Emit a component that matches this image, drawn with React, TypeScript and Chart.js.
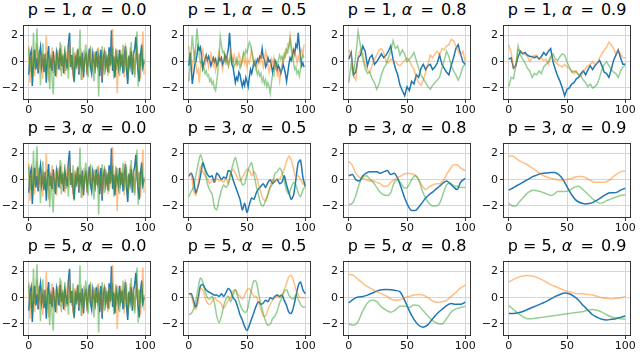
import React, { useEffect, useRef } from "react";
import { Chart, registerables } from "chart.js";

Chart.register(...registerables);
Chart.defaults.font.family = '"DejaVu Sans", sans-serif';

// ---------- x positions ----------
const X1 = Array.from({ length: 100 }, (_, i) => i);
const X2 = Array.from({ length: 51 }, (_, i) => i * 2);
const X3 = [0, 3, 6, 9, 12, 15, 18, 21, 24, 27, 30, 33, 36, 39, 42, 45, 48, 51, 54, 57, 60, 63, 66, 69, 72, 75, 78, 81, 84, 87, 90, 93, 96, 100];
const X4 = [0, 4, 8, 12, 16, 20, 24, 28, 32, 36, 40, 44, 48, 52, 56, 60, 64, 68, 72, 76, 80, 84, 88, 92, 96, 100];

// ---------- axis ticks ----------
const X_TICKS = [0, 50, 100];
const Y_TICKS = [-2, 0, 2];
const Y_MIN = -2.92;
const Y_MAX = 2.83;
const X_MIN = -5;
const X_MAX = 105;

// ---------- alpha = 0.0 (same for p = 1, 3, 5) ----------
const blueA00 = [-1.0, 0.4, 0.8, -1.85, -0.2, 0.9, -0.6, 0.3, -0.9, 0.5,
  1.1, -0.4, 0.2, -0.8, 0.6, -1.6, 0.1, 1.2, -0.5, 0.3,
  -0.7, 0.8, -0.2, -1.1, 0.7, 0.2, -0.6, 1.0, -0.3, 0.4,
  -0.9, 0.6, 0.1, -0.5, 1.3, 2.2, -0.4, 0.5, -0.8, -1.5,
  0.3, -0.2, 0.9, -1.0, 0.4, -0.3, 0.7, -1.2, 0.2, 0.5,
  -0.6, 0.1, 1.0, -0.4, -0.9, 0.6, 0.0, -0.5, 0.8, -0.2,
  0.4, -1.1, 0.9, -1.6, 0.3, 0.7, -0.4, 0.2, -0.8, 1.1,
  -0.3, 2.4, -0.7, 0.4, -1.2, 0.6, 0.1, -0.5, 0.9, -0.2,
  0.5, -0.9, 0.3, 1.2, -0.6, -1.7, 0.4, -0.3, 0.8, -1.0,
  0.6, 1.0, 1.9, 0.2, -0.7, -1.5, 0.5, 1.3, -0.4, 0.0];
const greenA00 = [1.0, -0.8, 0.3, -1.2, 2.2, -0.5, 0.6, 2.55, -0.3, 0.9,
  -1.8, 0.4, 1.4, -0.6, 0.2, -1.0, 0.8, -0.4, -2.1, 0.5,
  -1.3, -2.5, 0.1, -0.9, 0.7, -0.2, 0.3, 1.5, -1.1, 0.6,
  -0.4, 1.2, -0.7, 0.2, -1.3, 0.9, 0.0, -0.6, 1.1, -1.6,
  0.4, -0.5, 1.0, -0.2, 2.45, -1.4, 0.3, -0.8, 0.6, 1.3,
  -0.3, -1.2, 0.5, 0.9, -0.7, 0.2, -1.5, 0.7, -0.4, 1.0,
  -2.65, 0.4, -0.6, 1.2, 0.1, -1.0, 0.8, -0.3, 0.5, -0.9,
  0.7, -0.2, 1.1, -1.3, 0.3, -0.6, 0.9, 0.2, -1.1, 0.6,
  -0.4, 1.3, -0.8, 0.2, 0.7, -1.4, 0.5, -0.1, 1.5, -0.7,
  0.3, -1.2, 0.8, 2.3, -1.9, 0.6, -0.4, 1.1, -0.6, 0.2];
const orangeA00 = [1.2, -1.6, 0.5, -0.3, 0.9, -1.1, 0.2, 1.4, -0.7, 0.4,
  -0.2, 0.8, -1.3, 0.6, -0.5, 2.0, 0.1, -1.5, 0.7, -0.4,
  1.1, -0.9, 0.3, 0.6, -1.2, 0.9, -0.1, -0.7, 1.3, -0.4,
  0.5, -1.0, 0.2, 0.8, -0.6, 1.6, -0.3, 0.4, -1.2, 0.7,
  -0.5, 0.3, 1.0, -0.8, 0.1, 0.6, -1.4, 0.9, -0.2, 0.4,
  -1.0, 0.7, -0.3, 1.2, -0.6, 0.2, 0.8, -0.9, 0.5, -0.4,
  1.1, -0.7, 0.3, -1.3, 0.6, 0.9, -0.5, 0.1, -1.1, 0.8,
  -0.2, 0.5, 2.5, -0.8, 0.4, 1.0, -2.4, 0.2, -0.6, 0.9,
  -0.3, 0.6, -1.2, 1.4, -0.5, 0.3, -0.9, 1.1, 0.0, -0.7,
  0.8, -1.0, 0.4, 1.2, -0.4, 0.6, -1.3, 0.5, 2.3, -1.0];

// ---------- p = 1 ----------
const blueP1A05 = [-0.3, 0.7, -0.3, -1.7, -1.0, -0.3, 0.0, 0.5, 1.2, 0.9,
  1.1, 0.4, -0.5, -0.1, 0.2, 0.5, 0.1, 0.4, 0.1, -0.3,
  0.0, 0.3, 0.0, 0.2, -0.3, -0.1, 0.3, 0.1, 0.3, -0.2,
  0.0, 0.5, 0.2, 0.5, 1.0, 2.2, 0.8, -0.2, -0.4, -1.0,
  -1.6, -1.2, -1.4, -0.8, -1.0, -1.5, -1.9, -1.5, -1.8, -1.2,
  -1.5, -1.9, -1.2, -0.6, -0.9, -0.5, 0.0, -0.3, -0.1, 0.2,
  0.0, 0.4, 0.3, 1.0, 0.3, 0.2, -0.4, -0.2, 0.3, 0.0,
  0.1, -0.3, -0.8, -0.4, 0.1, -0.1, -0.6, -0.3, -0.5, -0.9,
  -0.6, -0.2, -0.5, -0.9, -1.5, -0.9, -0.2, 0.3, 0.1, 0.5,
  0.9, 0.6, 1.3, 1.1, 2.2, 1.2, 0.4, -0.3, -0.1, -0.4];
const greenP1A05 = [-1.5, -0.4, 0.8, 2.0, 0.9, 0.2, 1.2, 2.55, 1.6, 0.5,
  -0.1, 0.0, -0.6, -0.5, -0.9, -0.7, -1.1, -1.0, -1.5, -1.3,
  -1.7, -1.5, -2.0, -2.2, -1.5, -0.7, 0.3, 1.9, 1.3, 0.7,
  0.8, 0.3, -0.1, 0.2, -0.3, 0.0, 0.4, 0.0, 0.2, -0.4,
  -0.2, 0.2, -0.2, 0.0, -0.5, -0.2, 0.2, 0.7, 0.5, 0.9,
  0.7, 1.1, 1.5, 1.3, 0.8, 0.3, -0.2, 0.0, -0.6, -1.0,
  -0.7, -1.1, -0.9, -1.5, -1.2, -1.7, -1.4, -1.9, -1.6, -1.9,
  -2.4, -1.6, -1.0, -1.1, -0.5, 0.0, -0.3, 0.1, 0.5, 0.2,
  0.4, 0.0, 0.6, 0.4, 0.9, 0.7, 1.2, 1.7, 1.0, 0.4,
  -0.1, -0.6, -0.4, -0.9, -0.7, -1.1, -0.5, 0.1, 0.5, 0.3];
const orangeP1A05 = [1.2, 0.2, 0.5, -0.4, 0.1, 0.7, -0.2, -0.8, -0.6, -1.6,
  -0.5, 0.3, 0.9, 0.4, -0.2, 0.4, 0.2, -0.4, 0.1, 0.6,
  0.2, -0.3, 0.1, -0.7, -0.3, 0.3, 0.8, 0.3, -0.1, -0.6,
  -0.1, 0.5, 0.0, 0.4, -0.3, 0.2, 0.9, 0.5, 0.0, 0.5,
  0.2, -0.2, 0.2, 0.6, 0.3, -0.3, 0.0, 0.5, -0.1, 0.3,
  -0.4, 0.1, -0.1, 0.4, 0.9, 0.4, -0.2, 0.1, -0.6, -0.3,
  0.2, -0.1, 0.5, 0.1, -0.4, 0.2, 0.8, 0.3, -0.3, -0.8,
  -0.4, 0.2, -0.1, 0.3, -0.5, -0.3, -1.0, -0.7, -1.5, -0.9,
  -0.2, 0.3, 0.2, 0.9, 0.7, 1.3, 1.1, 2.0, 1.3, 0.7,
  0.3, 0.7, 0.4, -0.1, 0.4, 0.1, 0.6, 0.9, 0.5, 1.3];

const blueP1A08 = [0.2, 0.7, -1.0, -0.8, 0.3, 0.5, 1.2, 0.8, -0.3, 0.3,
  0.5, -0.2, 0.0, 0.3, 0.6, 0.3, 0.5, 0.8, 1.2, 0.2,
  -0.5, -1.0, -1.8, -2.2, -2.6, -1.9, -2.2, -1.5, -1.7, -1.0,
  -1.2, -0.5, -0.2, -0.6, -0.3, -0.2, -0.6, -0.4, -0.1, 0.5,
  -0.2, -0.5, -0.8, -1.0, -0.3, 0.3, 1.0, 1.3, 0.6, 0.0, -0.2];
const greenP1A08 = [-1.6, -0.2, -1.0, 0.5, 2.3, 1.2, 0.2, -0.5, -0.9, -0.8,
  -1.3, -1.6, -2.1, -1.7, -1.0, -0.5, -0.2, 0.3, 0.8, 1.6,
  1.0, 1.2, 0.5, 0.9, 0.6, 0.0, 0.2, 0.4, 0.7, 0.1,
  -0.5, -1.0, -1.3, -1.6, -1.9, -2.1, -1.8, -1.6, -1.4, -1.2,
  -0.5, 0.1, 0.8, 0.4, -0.3, -0.7, -1.0, -1.4, -1.0, -0.4, -0.2];
const orangeP1A08 = [0.9, 0.5, -1.0, -1.4, 0.5, 0.9, 0.6, -0.2, -0.6, -0.8,
  -0.3, 0.2, 0.5, 0.9, 1.0, 0.7, 0.0, -0.1, 0.2, 0.1,
  0.0, -0.2, -0.3, -0.1, 0.1, 0.3, 0.1, -0.3, -0.6, -1.2,
  -1.6, -1.8, -1.4, -0.8, -0.2, 0.5, 0.3, 0.6, 0.8, 0.5,
  1.0, 0.9, 1.2, 1.3, 1.7, 1.6, 1.2, 0.8, 0.5, 0.8, 0.0];

const blueP1A09 = [0.2, 0.3, -0.5, -0.3, 0.4, 0.8, 0.6, 0.7, 0.5, 0.4,
  0.4, 0.3, 0.4, 0.2, 0.4, 0.7, 0.5, 0.8, 1.0, 0.0,
  -0.6, -1.1, -1.5, -2.0, -2.6, -2.1, -2.0, -1.7, -1.6, -1.3,
  -1.2, -0.9, -0.7, -1.0, -0.6, -0.3, -0.6, -0.3, -0.1, 0.1,
  -0.3, -0.8, -0.9, -1.2, -0.6, 0.1, 0.5, 0.9, 0.3, -0.2, -0.2];
const greenP1A09 = [-1.9, -1.2, -1.3, -0.3, 1.2, 0.5, 0.2, -0.1, -0.5, -0.7,
  -1.2, -0.9, -1.0, -0.7, -0.9, -0.4, -0.2, 0.0, 0.4, 0.6,
  0.2, 0.1, 0.4, 0.6, 0.5, 0.0, -0.4, -0.8, -0.7, -0.8,
  -1.0, -1.1, -1.4, -1.6, -1.9, -1.7, -2.0, -1.9, -1.7, -1.2,
  -0.6, -0.2, 0.0, -0.3, -0.6, -0.8, -0.9, -1.2, -0.7, -0.4, -0.3];
const orangeP1A09 = [1.3, 0.7, -0.5, -0.3, 0.9, 0.8, 0.7, 0.5, 0.4, 0.0,
  0.3, 0.5, 0.5, 0.2, 0.3, 0.1, 0.2, -0.2, 0.3, 0.2,
  0.0, -0.2, -0.3, -0.4, -0.2, -0.4, -0.5, -0.7, -0.9, -0.7,
  -1.0, -1.1, -0.8, -0.5, -0.3, -0.2, 0.0, -0.2, -0.1, 0.3,
  0.6, 0.9, 1.1, 1.5, 1.3, 1.0, 0.6, 0.9, 0.6, 0.3, 0.3];

// ---------- p = 3 ----------
const blueP3A05 = [0.3, 0.5, 0.0, -1.0, -0.5, 0.3, 1.3, 0.8, 0.4, 0.2,
  0.3, -0.2, 0.5, 0.3, 0.0, 0.2, 0.1, 0.7, 0.6, 0.0,
  -0.5, -1.0, -1.5, -2.3, -1.8, -2.5, -1.9, -1.4, -1.5, -1.0,
  -0.7, -0.5, -0.3, -0.6, -0.2, 0.0, -0.3, -0.1, 0.0, -0.3,
  -0.2, 0.3, -0.4, -1.0, -1.5, -1.2, 0.0, 1.3, 1.5, 0.2, -0.5];
const greenP3A05 = [-1.3, -0.9, -0.6, 0.3, 1.2, 1.9, 1.4, 0.6, -0.3, -0.8,
  -1.1, -2.1, -2.3, -1.5, -0.8, -0.4, -0.6, -0.3, 0.5, 1.2,
  1.7, 1.0, 0.2, -0.4, -0.3, 0.4, 1.0, 1.3, 0.4, -0.5,
  -1.2, -1.9, -2.0, -1.6, -1.2, -0.6, -0.3, 0.5, 0.6, 0.9,
  0.6, -0.1, -0.8, -1.1, -0.6, -0.2, -0.4, -1.0, -1.3, -0.8, -0.5];
const orangeP3A05 = [0.2, 0.5, -0.8, -1.2, -0.3, 1.0, 0.6, 0.3, 0.1, -0.3,
  0.0, -0.2, 0.1, -0.1, 0.0, -0.2, 0.1, -0.3, 0.5, 0.8,
  0.5, 0.1, -0.1, 0.2, 0.5, 0.8, 0.7, 0.3, 0.6, 0.3,
  -0.4, -1.0, -1.5, -1.6, -1.0, -0.5, 0.0, -0.2, 0.1, 0.0,
  0.4, 0.8, 1.4, 1.8, 1.5, 0.8, 0.2, 0.3, 0.0, -0.3, -0.4];

const blueP3A08 = [0.3, 0.4, 0.0, -0.1, 0.3, 0.5, 0.6, 0.6, 0.6, 0.5,
  0.6, 0.7, 0.4, 0.5, 0.1, -0.6, -1.4, -2.0, -2.35, -2.35,
  -2.1, -1.75, -1.4, -1.15, -0.95, -0.7, -0.5, -0.25, -0.1, -0.3,
  -0.55, -0.75, -0.2, 0.1];
const greenP3A08 = [-1.9, -1.8, -1.2, -0.3, 0.2, 0.3, 0.05, -0.2, -0.6, -0.95,
  -1.15, -1.2, -1.0, -0.2, 0.0, -0.3, -0.65, -0.5, 0.0, 0.3,
  0.0, -0.8, -1.4, -1.8, -2.0, -2.0, -1.8, -1.1, -0.4, -0.25,
  -0.45, -0.5, -0.6, -0.6];
const orangeP3A08 = [1.4, 1.1, 0.5, 0.2, 0.1, 0.0, -0.1, -0.1, -0.2, -0.3,
  -0.5, -0.5, -0.2, 0.0, 0.15, 0.3, 0.45, 0.5, 0.45, 0.35,
  0.0, -0.45, -0.75, -0.55, -0.4, -0.3, -0.3, -0.1, 0.4, 0.8,
  1.15, 1.15, 0.9, 0.7];

const blueP3A09 = [-0.8, -0.65, -0.5, -0.35, -0.2, -0.05, 0.1, 0.25, 0.35, 0.45,
  0.5, 0.52, 0.55, 0.55, 0.45, 0.2, -0.2, -0.7, -1.15, -1.5,
  -1.7, -1.8, -1.85, -1.82, -1.75, -1.6, -1.45, -1.25, -1.1, -1.0,
  -1.0, -0.95, -0.8, -0.65];
const greenP3A09 = [-1.8, -2.0, -2.0, -1.7, -1.4, -1.1, -0.9, -0.8, -0.85, -0.9,
  -1.0, -1.1, -1.2, -1.1, -0.9, -0.9, -0.9, -0.85, -0.7, -0.55,
  -0.5, -0.7, -0.95, -1.2, -1.45, -1.65, -1.8, -1.75, -1.6, -1.5,
  -1.4, -1.3, -1.2, -1.15];
const orangeP3A09 = [1.8, 1.8, 1.65, 1.45, 1.3, 1.2, 1.0, 0.85, 0.65, 0.45,
  0.3, 0.2, 0.1, 0.05, 0.0, -0.05, -0.02, 0.05, 0.1, 0.2,
  0.25, 0.25, 0.15, 0.0, -0.15, -0.2, -0.2, -0.2, -0.15, 0.0,
  0.25, 0.45, 0.6, 0.65];

// ---------- p = 5 ----------
const blueP5A05 = [0.3, 0.3, -0.2, -0.7, 0.0, 0.9, 1.0, 0.7, 0.5, 0.4,
  0.3, 0.2, 0.2, 0.1, 0.3, 0.1, 0.4, 0.7, 0.5, 0.0,
  -0.2, -0.7, -1.3, -1.7, -2.2, -2.5, -2.1, -1.6, -1.1, -0.6,
  -0.3, -0.5, -0.4, -0.2, -0.3, 0.0, -0.1, 0.1, 0.2, 0.1,
  0.2, -0.2, -0.6, -1.1, -1.2, -0.7, 0.1, 0.9, 1.2, 0.6, 0.3];
const greenP5A05 = [-1.3, -1.2, -0.9, -0.2, 0.7, 1.5, 1.2, 0.5, 0.0, -0.1,
  0.1, -0.4, -1.4, -1.9, -1.4, -0.6, -0.1, 0.1, -0.3, 0.2,
  0.6, 0.1, -0.5, -0.9, -1.1, -1.0, -0.2, 0.7, 1.3, 1.2,
  0.3, -0.5, -1.2, -1.8, -2.1, -2.0, -1.6, -1.4, -1.0, -0.4,
  0.0, 0.5, 0.6, 0.2, 0.0, -0.1, 0.2, -0.1, -0.5, -0.7, -0.7];
const orangeP5A05 = [0.3, 0.2, -0.5, -0.9, -0.3, 0.7, 0.6, 0.0, -0.4, -0.5,
  -0.3, 0.0, -0.2, -0.3, -0.5, -0.8, -0.5, -0.2, 0.0, 0.5,
  0.6, 0.3, 0.1, -0.1, 0.2, 0.6, 0.7, 0.4, 0.1, 0.1,
  -0.4, -0.9, -1.4, -1.4, -0.9, -0.5, -0.2, 0.0, 0.1, 0.0,
  0.2, 0.6, 1.1, 1.6, 1.7, 1.3, 0.6, 0.2, 0.0, 0.0, 0.0];

const blueP5A08 = [-0.4, -0.1, 0.05, 0.1, 0.2, 0.35, 0.5, 0.6, 0.62, 0.6,
  0.55, 0.45, -0.2, -1.0, -1.65, -2.1, -2.25, -2.05, -1.6, -1.2,
  -0.9, -0.6, -0.45, -0.5, -0.5, -0.35];
const greenP5A08 = [-2.0, -2.1, -1.8, -1.0, -0.4, -0.2, -0.3, -0.7, -0.95, -1.1,
  -0.95, -0.65, -0.65, -0.75, -0.55, -0.6, -1.0, -1.4, -1.75, -1.95,
  -2.0, -1.6, -1.1, -0.85, -0.75, -0.65];
const orangeP5A08 = [1.8, 1.7, 1.4, 1.1, 0.85, 0.65, 0.45, 0.3, 0.15, -0.1,
  -0.2, -0.15, 0.0, 0.1, 0.2, 0.25, 0.2, 0.0, -0.25, -0.35,
  -0.3, -0.2, 0.1, 0.4, 0.75, 0.95];

const blueP5A09 = [-1.2, -1.2, -1.15, -1.05, -0.9, -0.75, -0.6, -0.45, -0.3, -0.1,
  0.1, 0.25, 0.35, 0.3, 0.1, -0.2, -0.6, -0.95, -1.3, -1.5,
  -1.65, -1.7, -1.65, -1.6, -1.5, -1.4];
const greenP5A09 = [-0.6, -0.9, -1.2, -1.45, -1.6, -1.6, -1.55, -1.5, -1.45, -1.4,
  -1.35, -1.3, -1.25, -1.2, -1.15, -1.1, -1.05, -0.95, -0.9, -0.95,
  -1.1, -1.3, -1.45, -1.55, -1.6, -1.65];
const orangeP5A09 = [1.2, 1.4, 1.55, 1.65, 1.7, 1.65, 1.55, 1.4, 1.2, 1.0,
  0.85, 0.7, 0.55, 0.45, 0.35, 0.3, 0.3, 0.25, 0.2, 0.1,
  0.0, -0.05, -0.1, -0.05, 0.0, 0.1];

// ---------- panel table ----------
const P_VALUES = ["1", "3", "5"];
const ALPHA_VALUES = ["0.0", "0.5", "0.8", "0.9"];

type PanelDef = { xs: number[]; blue: number[]; orange: number[]; green: number[]; smooth: number };
const PANELS: PanelDef[][] = [
  [
    { xs: X1, blue: blueA00, orange: orangeA00, green: greenA00, smooth: 0 },
    { xs: X1, blue: blueP1A05, orange: orangeP1A05, green: greenP1A05, smooth: 0 },
    { xs: X2, blue: blueP1A08, orange: orangeP1A08, green: greenP1A08, smooth: 0 },
    { xs: X2, blue: blueP1A09, orange: orangeP1A09, green: greenP1A09, smooth: 0 },
  ],
  [
    { xs: X1, blue: blueA00, orange: orangeA00, green: greenA00, smooth: 0 },
    { xs: X2, blue: blueP3A05, orange: orangeP3A05, green: greenP3A05, smooth: 0.2 },
    { xs: X3, blue: blueP3A08, orange: orangeP3A08, green: greenP3A08, smooth: 1 },
    { xs: X3, blue: blueP3A09, orange: orangeP3A09, green: greenP3A09, smooth: 1 },
  ],
  [
    { xs: X1, blue: blueA00, orange: orangeA00, green: greenA00, smooth: 0 },
    { xs: X2, blue: blueP5A05, orange: orangeP5A05, green: greenP5A05, smooth: 0.35 },
    { xs: X4, blue: blueP5A08, orange: orangeP5A08, green: greenP5A08, smooth: 1 },
    { xs: X4, blue: blueP5A09, orange: orangeP5A09, green: greenP5A09, smooth: 1 },
  ],
];

// ---------- layout / style ----------
const COL_LEFT = [23, 183, 343, 503];
const ROW_TOP = [20, 138, 256];
const AREA_W = 128;
const AREA_H = 80;
const YAXIS_W = 22;
const XAXIS_H = 20;
const PAD_TOP = 4;
const PAD_RIGHT = 12;

const BLUE = "#1f77b4";
const ORANGE = "rgba(255,127,14,0.5)";
const GREEN = "rgba(44,160,44,0.5)";

const fmt = (v: number) => (v < 0 ? "\u2212" + Math.abs(v) : String(v));

const framePlugin = {
  id: "frame",
  afterDatasetsDraw(chart: any) {
    const { ctx, chartArea: a } = chart;
    ctx.save();
    ctx.strokeStyle = "#333";
    ctx.lineWidth = 1;
    ctx.strokeRect(Math.round(a.left) + 0.5, Math.round(a.top) + 0.5, Math.round(a.right - a.left) - 1, Math.round(a.bottom - a.top) - 1);
    ctx.restore();
  },
};

function Panel({ row, col }: { row: number; col: number }) {
  const ref = useRef<HTMLCanvasElement>(null);
  const def = PANELS[row][col];
  useEffect(() => {
    const pts = (ys: number[]) => ys.map((y, i) => ({ x: def.xs[i], y })).filter((p) => p.x !== undefined);
    const mono = def.smooth >= 1;
    const common = {
      borderWidth: 1.5,
      pointRadius: 0,
      fill: false,
      tension: mono ? 0 : def.smooth,
      cubicInterpolationMode: mono ? "monotone" : "default",
    };
    const chart = new Chart(ref.current as HTMLCanvasElement, {
      type: "line",
      data: {
        datasets: [
          { ...common, data: pts(def.blue), borderColor: BLUE, order: 2 },
          { ...common, data: pts(def.orange), borderColor: ORANGE, order: 1 },
          { ...common, data: pts(def.green), borderColor: GREEN, order: 0 },
        ] as any,
      },
      options: {
        animation: false,
        responsive: false,
        maintainAspectRatio: false,
        events: [],
        layout: { padding: { top: PAD_TOP, right: PAD_RIGHT, left: 0, bottom: 0 } },
        plugins: { legend: { display: false }, tooltip: { enabled: false }, title: { display: false } },
        scales: {
          x: {
            type: "linear",
            min: X_MIN,
            max: X_MAX,
            afterBuildTicks: (s: any) => { s.ticks = X_TICKS.map((v) => ({ value: v })); },
            afterFit: (s: any) => { s.height = XAXIS_H; },
            ticks: { callback: (v: any) => fmt(Number(v)), color: "#111", font: { size: 11 }, padding: 1, maxRotation: 0, autoSkip: false },
            grid: { color: "#d6d6d6", lineWidth: 1, drawTicks: true, tickLength: 3, tickColor: "#333" },
            border: { display: false },
          },
          y: {
            type: "linear",
            min: Y_MIN,
            max: Y_MAX,
            afterBuildTicks: (s: any) => { s.ticks = Y_TICKS.map((v) => ({ value: v })); },
            afterFit: (s: any) => { s.width = YAXIS_W; },
            ticks: { callback: (v: any) => fmt(Number(v)), color: "#111", font: { size: 11 }, padding: 2, autoSkip: false },
            grid: { color: "#d6d6d6", lineWidth: 1, drawTicks: true, tickLength: 3, tickColor: "#333" },
            border: { display: false },
          },
        },
      } as any,
      plugins: [framePlugin],
    });
    return () => chart.destroy();
  }, []);
  const left = COL_LEFT[col];
  const top = ROW_TOP[row];
  return (
    <>
      <div
        style={{
          position: "absolute",
          left: left - 20,
          top: top - 20.5,
          width: AREA_W + 40,
          height: 20,
          lineHeight: "20px",
          textAlign: "center",
          fontFamily: '"DejaVu Sans", sans-serif',
          fontSize: 16,
          whiteSpace: "nowrap",
          color: "#000",
        }}
      >
        p = {P_VALUES[row]}, <i style={{ marginRight: 3 }}>α</i> =<span style={{ marginLeft: 2 }}> {ALPHA_VALUES[col]}</span>
      </div>
      <canvas
        ref={ref}
        width={YAXIS_W + AREA_W + PAD_RIGHT}
        height={PAD_TOP + AREA_H + XAXIS_H}
        style={{ position: "absolute", left: left - YAXIS_W, top: top - PAD_TOP }}
      />
    </>
  );
}

export default function App() {
  return (
    <div style={{ position: "fixed", left: 0, top: 0, width: 640, height: 353, background: "#fff", overflow: "hidden" }}>
      {PANELS.map((r, ri) => r.map((_, ci) => <Panel key={`${ri}-${ci}`} row={ri} col={ci} />))}
    </div>
  );
}
